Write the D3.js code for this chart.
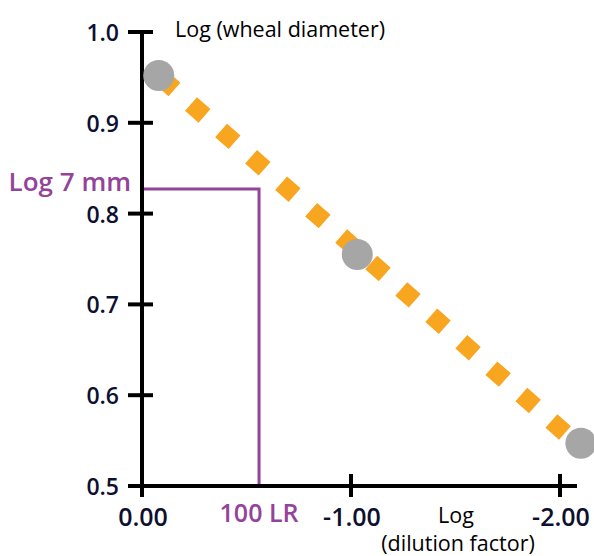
<!DOCTYPE html>
<html>
<head>
<meta charset="utf-8">
<script src="https://cdn.jsdelivr.net/npm/d3@7"></script>
<style>
  html, body { margin: 0; padding: 0; background: #fff; }
  svg { display: block; font-family: "Open Sans", "Noto Sans", sans-serif; }
</style>
</head>
<body>
<svg id="chart" width="594" height="556"></svg>
<script>
"use strict";

// ── Data ──────────────────────────────────────────────────────────────────────
const yTicks = [0.5, 0.6, 0.7, 0.8, 0.9, 1.0];
const yTickLabels = ["0.5", "0.6", "0.7", "0.8", "0.9", "1.0"];
const xTicks = [0, -1, -2];
const xTickLabels = ["0.00", "-1.00", "-2.00"];

// measured points: log(dilution factor), log(wheal diameter)
const pointX = [-0.08, -1.03, -2.10];
const pointY = [0.952, 0.755, 0.547];

// fitted line end points
const fitX = [-0.08, -2.10];
const fitY = [0.952, 0.543];

// reading for the 7 mm wheal
const markX = -0.56;
const markY = 0.827;

// ── Scales ────────────────────────────────────────────────────────────────────
const svg = d3.select("#chart");
const x = d3.scaleLinear().domain([0, -2]).range([142, 560]);
const y = d3.scaleLinear().domain([0.5, 1.0]).range([486, 32]);

const INK = "#000";
const NAVY = "#0d1030";
const PURPLE = "#94439a";
const ORANGE = "#f8a520";
const GREY = "#a6a6a6";

// ── Purple guide ──────────────────────────────────────────────────────────────
svg.append("path")
  .attr("d", `M${x(0)},${y(markY)} H${x(markX)} V${y(0.5)}`)
  .attr("fill", "none")
  .attr("stroke", PURPLE)
  .attr("stroke-width", 3);

// ── Axes ──────────────────────────────────────────────────────────────────────
const axes = svg.append("g").attr("stroke", INK).attr("stroke-width", 4);

axes.append("line")
  .attr("x1", x(0)).attr("x2", x(0))
  .attr("y1", y(1.0) - 2).attr("y2", y(0.5) + 11);

axes.append("line")
  .attr("x1", x(0) - 14).attr("x2", 577)
  .attr("y1", y(0.5)).attr("y2", y(0.5));

axes.selectAll(".ytick")
  .data(yTicks)
  .enter().append("line")
  .attr("class", "ytick")
  .attr("x1", x(0) - 14).attr("x2", x(0) + 11)
  .attr("y1", d => y(d)).attr("y2", d => y(d));

axes.selectAll(".xtick")
  .data(xTicks.slice(1))
  .enter().append("line")
  .attr("class", "xtick")
  .attr("x1", d => x(d)).attr("x2", d => x(d))
  .attr("y1", y(0.5) - 12).attr("y2", y(0.5) + 11);

svg.selectAll(".ylabel")
  .data(yTicks)
  .enter().append("text")
  .attr("class", "ylabel")
  .attr("x", 119)
  .attr("y", d => y(d) + 9)
  .attr("text-anchor", "end")
  .attr("font-size", 23)
  .attr("font-weight", 600)
  .attr("fill", NAVY)
  .text((d, i) => yTickLabels[i]);

svg.selectAll(".xlabel")
  .data(xTicks)
  .enter().append("text")
  .attr("class", "xlabel")
  .attr("x", d => x(d) + 1)
  .attr("y", 526)
  .attr("text-anchor", "middle")
  .attr("font-size", 25)
  .attr("font-weight", 600)
  .attr("fill", NAVY)
  .text((d, i) => xTickLabels[i]);

// ── Fitted line (dashed) ──────────────────────────────────────────────────────
svg.append("line")
  .attr("x1", x(fitX[0])).attr("y1", y(fitY[0]))
  .attr("x2", x(fitX[1])).attr("y2", y(fitY[1]))
  .attr("stroke", ORANGE)
  .attr("stroke-width", 18)
  .attr("stroke-dasharray", "18,22")
  .attr("stroke-dashoffset", 37);

// ── Points ────────────────────────────────────────────────────────────────────
svg.selectAll(".pt")
  .data(pointX)
  .enter().append("circle")
  .attr("class", "pt")
  .attr("cx", d => x(d))
  .attr("cy", (d, i) => y(pointY[i]))
  .attr("r", 15.5)
  .attr("fill", GREY);

// ── Annotations ───────────────────────────────────────────────────────────────
svg.append("text")
  .attr("x", 131).attr("y", 191)
  .attr("text-anchor", "end")
  .attr("font-size", 26)
  .attr("font-weight", 600)
  .attr("fill", PURPLE)
  .text("Log 7 mm");

svg.append("text")
  .attr("x", x(markX)).attr("y", 522)
  .attr("text-anchor", "middle")
  .attr("font-size", 25)
  .attr("font-weight", 600)
  .attr("fill", PURPLE)
  .text("100 LR");

svg.append("text")
  .attr("x", 175).attr("y", 37)
  .attr("font-size", 21.5)
  .attr("fill", INK)
  .text("Log (wheal diameter)");

svg.append("text")
  .attr("x", 456).attr("y", 523)
  .attr("text-anchor", "middle")
  .attr("font-size", 21.5)
  .attr("fill", INK)
  .text("Log");

svg.append("text")
  .attr("x", 458).attr("y", 551)
  .attr("text-anchor", "middle")
  .attr("font-size", 21.5)
  .attr("fill", INK)
  .text("(dilution factor)");
</script>
</body>
</html>
